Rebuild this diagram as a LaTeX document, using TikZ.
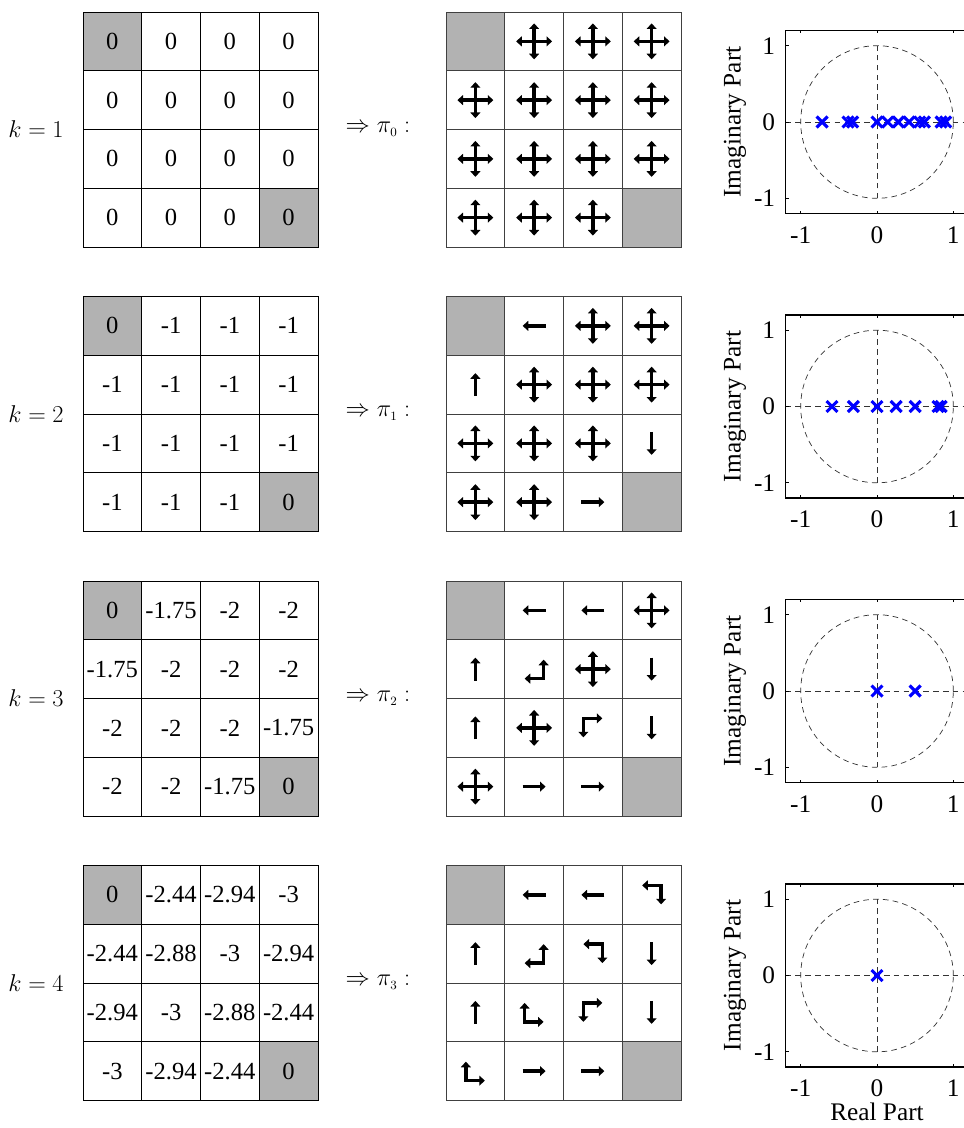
\documentclass[tikz,border=0pt]{standalone}
\usepackage{fontspec}
\setmainfont{Liberation Serif}
\usetikzlibrary{arrows.meta}
\definecolor{cellgray}{gray}{0.7}
\definecolor{poleblue}{rgb}{0,0,1}

\begin{document}
\begin{tikzpicture}[x=0.025cm, y=-0.025cm, font=\fontsize{17.5}{21}\selectfont,
  >={Triangle[length=4pt,width=7pt]},
  vcell/.style={draw, line width=0.6pt, minimum size=1.469cm, inner sep=0pt},
  pcell/.style={draw=black!75, line width=0.6pt, minimum size=1.469cm, inner sep=0pt},
  pol/.style={line width=2.4pt},
  frame/.style={line width=1.2pt},
  grid dash/.style={black!80, line width=0.5pt, dash pattern=on 4pt off 3pt},
  pole/.style={poleblue, line width=2.2pt},
  pics/none/.style={code={}},
  pics/all/.style={code={\draw[pol,<->] (-18,0) -- (18,0); \draw[pol,<->] (0,-18) -- (0,18);}},
  pics/lt/.style={code={\draw[pol,->] (11.5,0) -- (-11.5,0);}},
  pics/rt/.style={code={\draw[pol,->] (-11.5,0) -- (11.5,0);}},
  pics/up/.style={code={\draw[pol,->] (0,11.5) -- (0,-11.5);}},
  pics/dn/.style={code={\draw[pol,->] (0,-11.5) -- (0,11.5);}},
  pics/upl/.style={code={\draw[pol,<->] (9.5,-9.5) -- (9.5,9.5) -- (-9.5,9.5);}},
  pics/ltd/.style={code={\draw[pol,<->] (-9.5,-9.5) -- (9.5,-9.5) -- (9.5,9.5);}},
  pics/rtd/.style={code={\draw[pol,<->] (9.5,-9.5) -- (-9.5,-9.5) -- (-9.5,9.5);}},
  pics/upr/.style={code={\draw[pol,<->] (-9.5,-9.5) -- (-9.5,9.5) -- (9.5,9.5);}}
]
\clip (0,0) rectangle (964,1128);

% value grids and greedy policies, one row per iteration
\foreach \kr/\kk/\vals/\pols in {
  0/1/{{0,0,0,0},{0,0,0,0},{0,0,0,0},{0,0,0,0}}/{{none,all,all,all},{all,all,all,all},{all,all,all,all},{all,all,all,none}},
  1/2/{{0,-1,-1,-1},{-1,-1,-1,-1},{-1,-1,-1,-1},{-1,-1,-1,0}}/{{none,lt,all,all},{up,all,all,all},{all,all,all,dn},{all,all,rt,none}},
  2/3/{{0,-1.75,-2,-2},{-1.75,-2,-2,-2},{-2,-2,-2,-1.75},{-2,-2,-1.75,0}}/{{none,lt,lt,all},{up,upl,all,dn},{up,all,rtd,dn},{all,rt,rt,none}},
  3/4/{{0,-2.44,-2.94,-3},{-2.44,-2.88,-3,-2.94},{-2.94,-3,-2.88,-2.44},{-3,-2.94,-2.44,0}}/{{none,lt,lt,ltd},{up,upl,ltd,dn},{up,upr,rtd,dn},{upr,rt,rt,none}}} {
  \pgfmathsetmacro\rowtop{12+284.5*\kr}
  \node (k\kr) at (36,\rowtop+117.5) {$k=\kk$};
  \node (imp\kr) at (378,\rowtop+117) {$\Rightarrow\pi_{\scriptscriptstyle\kr}:$};
  \foreach \vrow [count=\i from 0] in \vals {
    \foreach \val [count=\j from 0] in \vrow {
      \pgfmathtruncatemacro\isgoal{(\i==0 && \j==0) || (\i==3 && \j==3)}
      \ifnum\isgoal=1 \def\cfill{cellgray}\else\def\cfill{white}\fi
      \node[vcell, fill=\cfill] (v\kr-\i-\j) at (112.375+58.75*\j,\rowtop+29.375+58.75*\i) {\val};
    }
  }
  \foreach \prow [count=\i from 0] in \pols {
    \foreach \act [count=\j from 0] in \prow {
      \pgfmathtruncatemacro\isgoal{(\i==0 && \j==0) || (\i==3 && \j==3)}
      \ifnum\isgoal=1 \def\cfill{cellgray}\else\def\cfill{white}\fi
      \node[pcell, fill=\cfill] (p\kr-\i-\j) at (475.375+58.75*\j,\rowtop+29.375+58.75*\i) {};
      \pic at (p\kr-\i-\j) {\act};
    }
  }
}

% pole plots
\foreach \kr/\poles in {
  0/{-0.72,-0.38,-0.32,0,0.14,0.28,0.42,0.56,0.62,0.84,0.9},
  1/{-0.59,-0.31,0,0.25,0.5,0.8,0.84},
  2/{0,0.5},
  3/{0}} {
  \begin{scope}[shift={(877,122+284.5*\kr)}, xscale=76.3, yscale=-76.3, font=\fontsize{18}{21}\selectfont]
    \draw[grid dash] (0,0) circle (1);
    \draw[grid dash] (-1.2,0) -- (1.2,0);
    \draw[grid dash] (0,-1) -- (0,1);
    \foreach \t in {-1,0,1} {
      \draw[line width=0.5pt] (\t,-1.2) -- (\t,-1.16) (\t,1.2) -- (\t,1.16);
      \draw[line width=0.5pt] (-1.2,\t) -- (-1.16,\t) (1.2,\t) -- (1.16,\t);
      \node[anchor=east] (yl\kr\t) at (-1.27,\t) {\t};
      \node (xl\kr\t) at (\t,-1.48) {\t};
    }
    \draw[frame] (-1.2,-1.2) rectangle (1.2,1.2);
    \node[rotate=90] (ylab\kr) at (-1.86,0) {Imaginary Part};
    \foreach \x in \poles
      \draw[pole] (\x-0.072,-0.072) -- (\x+0.072,0.072) (\x-0.072,0.072) -- (\x+0.072,-0.072);
  \end{scope}
}
\node[font=\fontsize{18}{21}\selectfont, inner sep=1pt] (xlab) at (877,1112) {Real Part};
\end{tikzpicture}
\end{document}
